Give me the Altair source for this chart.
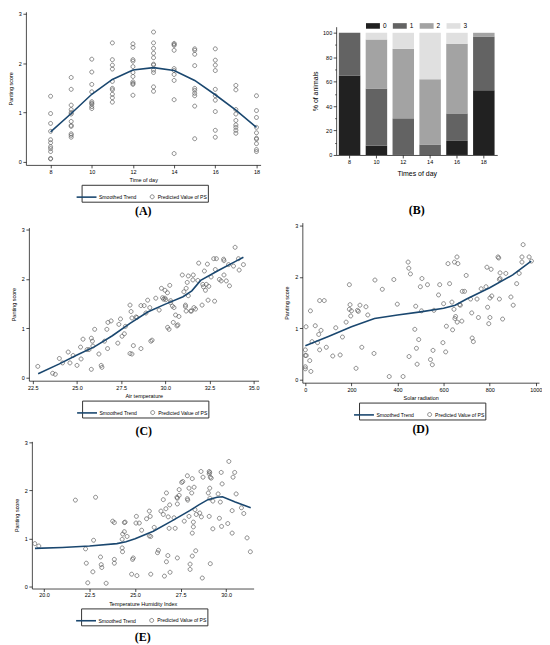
import altair as alt
import pandas as pd

# ---------------- data ----------------
SERIES = ["Smoothed Trend", "Predicted Value of PS"]

# (A) predicted panting score by hour of day
a_h08 = [1.33, 0.98, 0.78, 0.62, 0.45, 0.39, 0.31, 0.27, 0.21, 0.07, 0.06]
a_h09 = [1.71, 1.47, 1.15, 1.06, 1.00, 0.97, 0.82, 0.74, 0.72, 0.57, 0.54, 0.50]
a_h10 = [2.08, 1.82, 1.57, 1.42, 1.22, 1.19, 1.17, 1.12, 1.08]
a_h11 = [2.41, 2.07, 1.96, 1.88, 1.63, 1.49, 1.46, 1.37, 1.30, 1.21]
a_h12 = [2.39, 2.32, 2.07, 2.04, 1.93, 1.81, 1.73, 1.62, 1.59, 1.57, 1.35]
a_h13 = [2.63, 2.41, 2.30, 2.20, 2.11, 1.98, 1.96, 1.86, 1.81, 1.52, 1.43]
a_h14 = [2.40, 2.38, 2.36, 2.26, 1.89, 1.85, 1.77, 1.65, 1.26, 0.17]
a_h15 = [2.29, 2.26, 2.18, 1.95, 1.49, 1.45, 1.39, 1.34, 1.13, 0.47]
a_h16 = [2.29, 2.06, 1.96, 1.85, 1.47, 1.34, 1.25, 1.02, 0.64, 0.50]
a_h17 = [1.55, 1.46, 1.06, 0.97, 0.84, 0.75, 0.70, 0.64, 0.58]
a_h18 = [1.34, 1.04, 0.90, 0.70, 0.59, 0.48, 0.46, 0.37, 0.25, 0.21]
a_hours = [8, 9, 10, 11, 12, 13, 14, 15, 16, 17, 18]
a_groups = [a_h08, a_h09, a_h10, a_h11, a_h12, a_h13, a_h14, a_h15, a_h16, a_h17, a_h18]
a_trend_time = [8, 9, 10, 11, 12, 13, 14, 15, 16, 17, 18]
a_trend_ps = [0.61, 0.98, 1.37, 1.67, 1.86, 1.91, 1.85, 1.65, 1.36, 1.05, 0.70]

# (B) distribution of panting scores (% of animals)
b_time = [8, 10, 12, 14, 16, 18]
b_levels = ["0", "1", "2", "3"]
b_pct0 = [65, 7.5, 0, 0, 11.5, 53]
b_pct1 = [35, 47, 30, 8.5, 22.5, 44]
b_pct2 = [0, 40, 57, 53.5, 57, 3]
b_pct3 = [0, 5.5, 13, 38, 9, 0]
b_colors = ["#212121", "#636363", "#a3a3a3", "#e0e0e0"]
b_major_ticks = [0, 20, 40, 60, 80, 100]
b_minor_ticks = [10, 30, 50, 70, 90]

# (C) air temperature
c_temp = [22.78, 23.62, 23.77, 24.00, 24.18, 24.50, 24.60, 24.78, 25.00, 25.20,
          25.23, 25.34, 25.57, 25.68, 25.81, 25.87, 25.81, 26.00, 25.90, 26.24,
          26.37, 26.41, 26.56, 26.69, 26.75, 26.73, 26.93, 27.31, 27.37, 27.46,
          27.55, 27.68, 27.74, 28.00, 28.11, 28.00, 28.06, 28.11, 28.19, 28.34,
          28.39, 28.62, 28.62, 28.80, 28.90, 29.00, 29.12, 29.18, 29.25, 29.46,
          29.65, 29.78, 29.84, 29.90, 29.98, 29.98, 30.02, 30.12, 30.13, 30.25,
          30.21, 30.30, 30.30, 30.40, 30.45, 30.49, 30.58, 30.66, 30.71, 30.77,
          30.96, 31.05, 31.14, 31.14, 31.18, 31.18, 31.24, 31.30, 31.30, 31.43,
          31.48, 31.56, 31.62, 31.58, 31.71, 31.84, 31.89, 32.08, 32.12, 32.16,
          32.21, 32.27, 32.32, 32.38, 32.42, 32.46, 32.59, 32.74, 32.79, 32.83,
          32.89, 33.06, 33.16, 33.30, 33.32, 33.32, 33.45, 33.58, 33.63, 33.95,
          33.86, 34.14, 34.18, 34.42]
c_ps = [0.23, 0.09, 0.07, 0.39, 0.30, 0.52, 0.30, 0.45, 0.25, 0.62,
        0.38, 0.78, 0.57, 0.57, 0.80, 0.74, 0.17, 0.98, 0.64, 0.48,
        0.25, 0.21, 0.74, 0.98, 1.12, 0.59, 1.15, 0.70, 1.08, 1.19,
        0.84, 0.89, 1.04, 0.49, 0.48, 1.47, 1.34, 1.21, 0.65, 1.23,
        1.22, 1.46, 0.59, 1.46, 1.31, 1.57, 1.42, 0.74, 0.76, 1.61,
        1.37, 1.81, 1.62, 1.59, 1.77, 1.61, 1.58, 1.72, 1.02, 1.87,
        0.98, 1.56, 1.52, 1.45, 1.12, 1.42, 1.27, 1.05, 1.07, 1.24,
        2.08, 1.74, 1.47, 1.44, 1.81, 1.35, 1.93, 2.06, 1.66, 1.35,
        1.35, 1.98, 1.42, 2.08, 1.39, 1.97, 2.32, 1.47, 1.89, 1.84,
        2.16, 1.77, 1.89, 2.30, 1.57, 1.85, 2.04, 2.41, 1.55, 2.19,
        2.41, 1.99, 1.96, 2.40, 2.37, 2.08, 1.96, 2.29, 1.86, 2.64,
        2.26, 2.41, 2.18, 2.29]
c_trend_temp = [22.8, 24.0, 25.0, 26.0, 27.0, 28.0, 29.0, 30.0, 31.0, 31.5, 32.0, 33.0, 34.0, 34.42]
c_trend_ps = [0.08, 0.28, 0.46, 0.63, 0.85, 1.10, 1.33, 1.49, 1.64, 1.76, 1.97, 2.17, 2.36, 2.44]

# (D) solar radiation
d_rad = [0, 0, 4, 0, 0, 3, 19, 22, 24, 29,
         43, 53, 58, 62, 62, 68, 82, 91, 119, 132,
         151, 161, 177, 191, 194, 191, 197, 200, 220, 226,
         230, 237, 245, 263, 271, 298, 302, 334, 364, 384,
         399, 424, 446, 449, 456, 450, 475, 479, 482, 485,
         492, 499, 506, 504, 530, 543, 551, 554, 558, 578,
         583, 597, 600, 609, 612, 619, 626, 636, 639, 647,
         645, 649, 652, 658, 659, 662, 669, 673, 679, 681,
         691, 698, 717, 722, 724, 729, 745, 751, 763, 784,
         788, 791, 796, 801, 801, 806, 809, 836, 839, 842,
         842, 845, 845, 856, 870, 892, 902, 917, 928, 940,
         940, 945, 971, 981]
d_ps = [0.58, 0.47, 0.47, 0.25, 0.21, 1.03, 0.37, 1.34, 0.16, 0.74,
        1.05, 0.72, 0.88, 0.58, 1.54, 0.96, 1.54, 0.63, 0.46, 1.01,
        0.48, 0.83, 1.12, 1.85, 1.46, 1.37, 1.24, 1.34, 0.22, 1.35,
        1.33, 1.45, 0.63, 1.42, 1.26, 0.51, 1.94, 1.76, 0.06, 1.95,
        1.47, 0.06, 2.29, 2.17, 2.06, 0.45, 0.98, 1.43, 0.61, 0.30,
        0.78, 1.81, 1.97, 1.34, 1.85, 0.39, 0.29, 0.57, 1.35, 1.65,
        1.85, 0.72, 1.48, 0.54, 1.04, 2.26, 1.87, 1.51, 0.97, 2.29,
        1.37, 1.19, 1.23, 2.39, 1.12, 2.26, 1.46, 1.45, 1.14, 1.72,
        1.72, 2.03, 1.57, 1.30, 0.81, 0.74, 1.57, 1.21, 1.77, 1.81,
        2.19, 1.41, 1.09, 1.59, 1.21, 2.15, 1.63, 2.39, 2.37, 1.57,
        1.95, 1.97, 2.08, 1.18, 2.07, 1.61, 1.45, 1.87, 2.07, 2.39,
        2.29, 2.63, 2.39, 2.31]
d_trend_rad = [0, 100, 200, 300, 400, 500, 600, 650, 700, 800, 900, 980]
d_trend_ps = [0.66, 0.84, 1.03, 1.19, 1.26, 1.32, 1.39, 1.45, 1.57, 1.79, 2.04, 2.31]

# (E) temperature humidity index
e_thi = [19.49, 19.71, 21.72, 22.83, 22.28, 22.72, 22.32, 22.40, 22.68, 23.10,
         23.14, 23.17, 23.41, 23.77, 23.86, 23.86, 23.86, 24.32, 24.29, 24.41,
         24.45, 24.41, 24.29, 24.31, 24.56, 24.81, 25.10, 24.86, 24.90, 25.07,
         25.05, 25.23, 25.36, 25.63, 25.78, 25.83, 26.05, 25.78, 25.86, 25.86,
         26.23, 26.28, 26.42, 26.55, 26.55, 26.61, 26.69, 26.72, 26.72, 26.80,
         26.82, 26.87, 26.90, 26.92, 27.14, 27.20, 27.32, 27.30, 27.32, 27.32,
         27.42, 27.42, 27.56, 27.62, 27.70, 27.87, 27.89, 27.87, 27.96, 27.96,
         28.02, 28.02, 28.11, 28.14, 28.14, 28.20, 28.20, 28.14, 28.24, 28.29,
         28.33, 28.36, 28.55, 28.64, 28.62, 28.69, 28.73, 29.02, 29.07, 29.10,
         29.07, 29.13, 29.18, 29.07, 29.10, 29.11, 29.13, 29.27, 29.27, 29.56,
         29.63, 29.68, 29.73, 29.75, 29.78, 30.09, 30.15, 30.33, 30.33, 30.38,
         30.47, 30.55, 30.84, 30.97, 31.15, 31.33]
e_ps = [0.89, 0.84, 1.80, 1.86, 0.78, 0.96, 0.48, 0.07, 0.30, 0.61,
        0.45, 0.39, 0.06, 1.36, 1.33, 0.56, 0.48, 1.09, 0.98, 1.33,
        1.34, 1.14, 0.80, 0.72, 1.04, 0.25, 0.22, 0.56, 0.59, 1.46,
        1.32, 1.32, 1.17, 1.41, 1.57, 1.46, 1.23, 1.05, 1.04, 0.25,
        0.70, 0.75, 1.57, 1.50, 1.81, 0.21, 1.62, 1.95, 0.51, 0.64,
        1.45, 1.21, 1.70, 0.29, 1.43, 1.21, 1.72, 1.86, 1.84, 0.59,
        2.02, 1.90, 2.17, 2.19, 1.36, 1.83, 1.80, 2.31, 2.05, 1.46,
        0.35, 0.46, 1.95, 2.25, 1.11, 1.24, 1.34, 0.63, 2.07, 1.60,
        0.74, 1.50, 1.53, 1.45, 2.40, 0.17, 2.28, 1.95, 2.40, 2.38,
        2.35, 2.28, 2.26, 1.46, 2.05, 1.84, 0.47, 1.78, 1.20, 1.93,
        1.42, 1.76, 2.38, 1.25, 2.14, 1.31, 2.61, 1.58, 1.11, 2.28,
        2.38, 1.93, 1.64, 1.52, 1.01, 0.72]
e_trend_thi = [19.5, 21.0, 22.5, 24.0, 24.5, 25.0, 26.0, 27.0, 28.0, 28.5, 29.0, 29.5, 29.8, 30.5, 31.35]
e_trend_ps = [0.79, 0.81, 0.84, 0.89, 0.93, 0.99, 1.15, 1.36, 1.58, 1.70, 1.81, 1.86, 1.87, 1.76, 1.64]

# ---------------- style ----------------
SANS = "Liberation Sans"
SERIF = "Liberation Serif"
NAVY = "#1a476f"
PTCOL = "#5a5a5a"
LINE_PATH = "M-1.7,0L0.3,0"
CIRC_PATH = "M-0.2,0A0.2,0.2 0 1,0 0.2,0A0.2,0.2 0 1,0 -0.2,0Z"
LEG_W = 124


def panel_title(label, off, dx):
    return alt.TitleParams(text=label, orient="bottom", anchor="middle", offset=off, dx=dx,
                           font=SERIF, fontSize=12, fontWeight="bold", color="black")


def scatter_panel(px, py, tx, ty, xdom, ydom, xvals, xfmt, xtitle, w, h, lpad, tpad, label, toff):
    pts = pd.DataFrame({"x": px, "y": py, "s": SERIES[1]})
    trend = pd.DataFrame({"x": tx, "y": ty, "s": SERIES[0]})
    xs = alt.Scale(domain=xdom, range=[lpad, lpad + w], nice=False, zero=False)
    ys = alt.Scale(domain=ydom, range=[tpad + h, tpad], nice=False, zero=False)
    common = dict(labelFontSize=5.5, titleFontSize=5.5, tickSize=3, tickWidth=0.7,
                  domainWidth=0.7, labelPadding=1.5, labelFlush=False,
                  labelOverlap=False, titleFontWeight="normal")
    xax = alt.Axis(values=xvals, format=xfmt, title=xtitle, titlePadding=3, **common)
    yax = alt.Axis(values=[0, 1, 2, 3], format="d", title="Panting score",
                   titlePadding=5, offset={"expr": str(-lpad)}, **common)
    leg = alt.Legend(title=None, orient="none", legendX=lpad + (w - LEG_W) / 2,
                     legendY=tpad + h + 20,
                     direction="horizontal", columns=2, symbolSize=400,
                     labelFont=SANS, labelFontSize=5.1, labelColor="black",
                     labelOffset={"expr": "-5.5"}, columnPadding=4, padding=1,
                     strokeColor="#333333", fillColor="white", symbolOpacity=1,
                     labelLimit=0)
    color = alt.Color("s:N", scale=alt.Scale(domain=SERIES, range=[NAVY, PTCOL]), legend=leg)
    shape = alt.Shape("s:N", scale=alt.Scale(domain=SERIES, range=[LINE_PATH, CIRC_PATH]), legend=leg)
    sw = alt.StrokeWidth("s:N", scale=alt.Scale(domain=SERIES, range=[1.6, 0.7]), legend=leg)
    p = alt.Chart(pts).mark_point(filled=False, size=400, opacity=1).encode(
        x=alt.X("x:Q", scale=xs, axis=xax),
        y=alt.Y("y:Q", scale=ys, axis=yax),
        color=color, shape=shape, strokeWidth=sw)
    l = alt.Chart(trend).mark_line().encode(
        x=alt.X("x:Q", scale=xs, axis=xax),
        y=alt.Y("y:Q", scale=ys, axis=yax),
        color=color, strokeWidth=sw)
    return alt.layer(p, l).properties(
        width=w + lpad, height=h + tpad, title=panel_title(label, toff, lpad / 2))


# (A)
a_time, a_ps = [], []
for hr, vals in zip(a_hours, a_groups):
    a_time += [hr] * len(vals)
    a_ps += vals
panel_a = scatter_panel(a_time, a_ps, a_trend_time, a_trend_ps, [6.8, 18.2], [-0.06, 3.04],
                        [8, 10, 12, 14, 16, 18], "d", "Time of day", 236, 154, 0, 0, "(A)", 4)

# (B)
B_L, B_T, B_W, B_H = 34, 15, 162, 129
b_rows = []
for lvl, vals in zip(b_levels, [b_pct0, b_pct1, b_pct2, b_pct3]):
    for t, v in zip(b_time, vals):
        b_rows.append({"t": t, "lvl": lvl, "pct": v})
bdf = pd.DataFrame(b_rows)
b_leg = alt.Legend(title=None, orient="none", legendX=B_L + 30, legendY=B_T - 8,
                   direction="horizontal", columns=4,
                   symbolType="M-1,-0.4L1,-0.4L1,0.4L-1,0.4Z", symbolSize=196,
                   symbolStrokeWidth=0, labelFont=SANS, labelFontSize=6.5, labelColor="black",
                   labelOffset=3, columnPadding=6, padding=0)
b_xscale = alt.Scale(range=[B_L, B_L + B_W], paddingInner=0.2, paddingOuter=0.1)
b_yscale = alt.Scale(domain=[0, 105], range=[B_T + B_H, B_T], nice=False)
b_xaxis = alt.Axis(title="Times of day", labelAngle=0, labelFontSize=5.5, titleFontSize=7,
                   tickSize=3, tickWidth=0.7, domainWidth=0.7, labelPadding=2,
                   titlePadding=4, titleFontWeight="normal")
b_bars = alt.Chart(bdf).mark_bar().encode(
    x=alt.X("t:O", sort=b_time, scale=b_xscale, axis=b_xaxis),
    y=alt.Y("pct:Q", stack="zero", scale=b_yscale,
            axis=alt.Axis(values=b_major_ticks, title="% of animals", orient="left",
                          labelFontSize=5.5, titleFontSize=7, tickSize=3, tickWidth=0.7,
                          domainWidth=0.7, labelPadding=1.5, titlePadding=4,
                          offset={"expr": str(-B_L)},
                          titleFontWeight="normal", labelFlush=False)),
    color=alt.Color("lvl:N", scale=alt.Scale(domain=b_levels, range=b_colors), legend=b_leg),
    order=alt.Order("lvl:O", sort="ascending"),
)
b_minor = alt.Chart(bdf).mark_bar(opacity=0).encode(
    x=alt.X("t:O", sort=b_time, scale=b_xscale, axis=b_xaxis),
    y=alt.Y("pct:Q", stack="zero", scale=b_yscale,
            axis=alt.Axis(values=b_minor_ticks, orient="left", labels=False, title=None,
                          domain=False, tickSize=1.6, tickWidth=0.6,
                          offset={"expr": str(-B_L)})),
)
panel_b = alt.layer(b_bars, b_minor).resolve_axis(y="independent").properties(
    width=B_L + B_W, height=B_T + B_H, title=panel_title("(B)", 29, B_L / 2))

# (C)
panel_c = scatter_panel(c_temp, c_ps, c_trend_temp, c_trend_ps, [22.275, 35.28], [-0.06, 3.04],
                        [22.5, 25.0, 27.5, 30.0, 32.5, 35.0], ".1f", "Air temperature",
                        231, 154, 3, 5, "(C)", 8)
# (D)
panel_d = scatter_panel(d_rad, d_ps, d_trend_rad, d_trend_ps, [-13, 1014], [-0.06, 3.06],
                        [0, 200, 400, 600, 800, 1000], "d", "Solar radiation",
                        238, 161, 0, 0, "(D)", 4)
# (E)
panel_e = scatter_panel(e_thi, e_ps, e_trend_thi, e_trend_ps, [19.33, 31.51], [-0.05, 3.03],
                        [20.0, 22.5, 25.0, 27.5, 30.0], ".1f", "Temperature Humidity Index",
                        223, 148, 6, 1, "(E)", 6)

chart = alt.concat(
    panel_a, panel_b, panel_c, panel_d, panel_e,
    columns=2, spacing={"row": 58, "column": 42}, bounds="flush", align="each",
).resolve_scale(
    color="independent", shape="independent", strokeWidth="independent",
).resolve_legend(
    color="independent", shape="independent", strokeWidth="independent",
).properties(
    padding={"left": 0, "top": 1, "right": 0, "bottom": 0}, background="white",
).configure_view(strokeWidth=0).configure_axis(
    labelFont=SANS, titleFont=SANS, labelColor="black", titleColor="black",
    domainColor="black", tickColor="black", grid=False,
)

chart.save("out.html", embed_options={"renderer": "svg", "actions": False})
